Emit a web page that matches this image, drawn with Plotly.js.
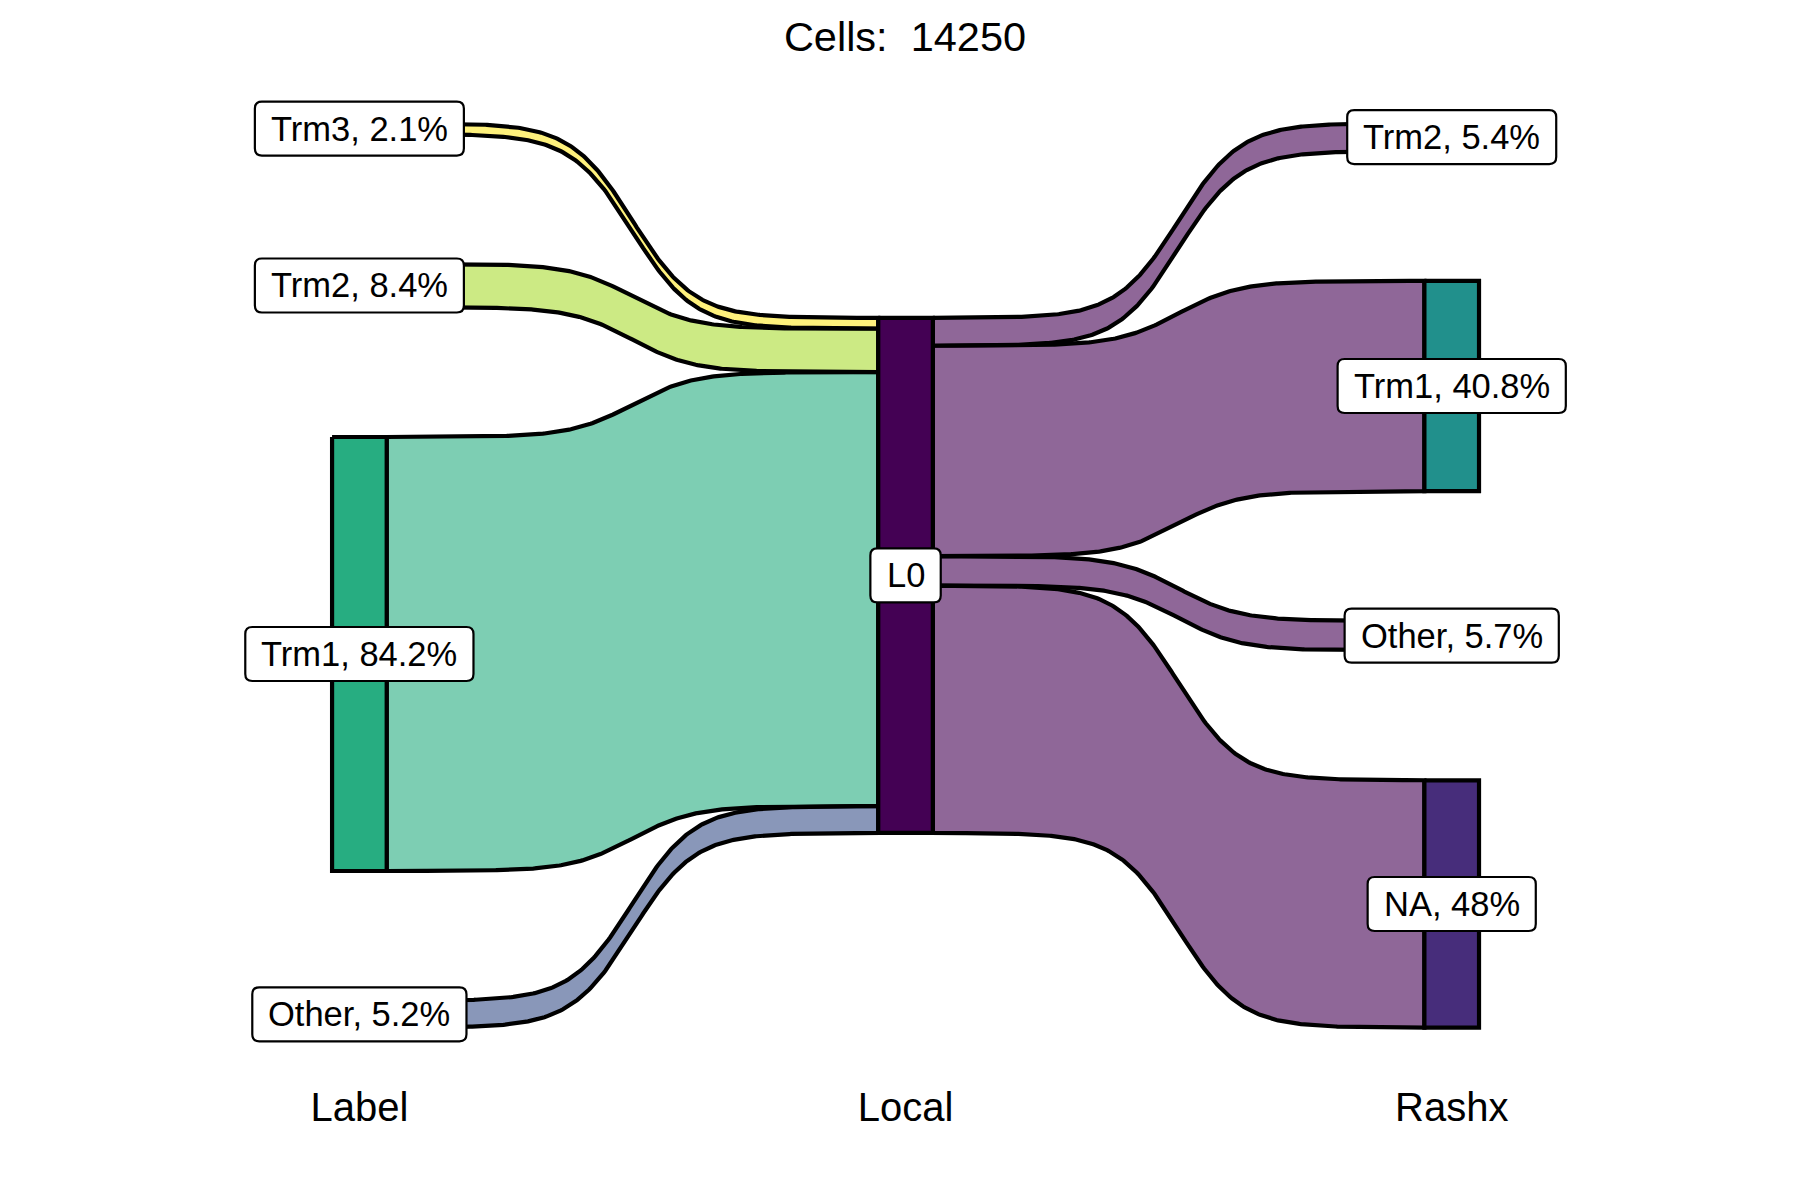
<!DOCTYPE html>
<html><head><meta charset="utf-8">
<script src="https://cdn.plot.ly/plotly-3.0.1.min.js"></script>
<style>html,body{margin:0;padding:0;background:#fff}</style>
</head><body><div id="chart" style="width:1800px;height:1200px"></div>
<script>
// ---- data ----
const totalCells = 14250;
const stageNames = ['Label', 'Local', 'Rashx'];
const labelNodes = ['Trm3', 'Trm2', 'Trm1', 'Other'];
const labelPct = [2.1, 8.4, 84.2, 5.2];
const labelColors = ['#FDE725', '#AADC32', '#27AD81', '#3B528B'];
const localNodes = ['L0'];
const localColors = ['#440154'];
const rashxNodes = ['Trm2', 'Trm1', 'Other', 'NA'];
const rashxPct = [5.4, 40.8, 5.7, 48];
const rashxColors = ['#5DC863', '#21908C', '#2C728E', '#472D7B'];

// ---- style ----
const nodeGap = 25.2;        // gap between nodes in a column (percent units)
const nodeWidth = 0.1;       // x units
const smooth = 8;
const lineW = 4.2;
const FONT = '"Liberation Sans", Arial, sans-serif';
const labelFontSize = 34.5;

function stack(values) {
  const sum = values.reduce((a, b) => a + b, 0);
  const total = sum + nodeGap * (values.length - 1);
  let y = total / 2;
  return values.map(v => { const t = y; y -= v; const b = y; y -= nodeGap; return {top: t, bot: b}; });
}
function alpha(hex, a) {
  const r = parseInt(hex.slice(1, 3), 16), g = parseInt(hex.slice(3, 5), 16), b = parseInt(hex.slice(5, 7), 16);
  return `rgba(${r},${g},${b},${a})`;
}
function sigmoidEdge(x0, x1, y0, y1, n) {
  const xs = [], ys = [];
  for (let i = 0; i < n; i++) {
    const s = -smooth + 2 * smooth * i / (n - 1);
    const f = Math.exp(s) / (Math.exp(s) + 1);
    xs.push((s + smooth) / (2 * smooth) * (x1 - x0) + x0);
    ys.push(f * (y1 - y0) + y0);
  }
  return {xs, ys};
}
function flowTrace(x0, x1, a, b, color) {
  const top = sigmoidEdge(x0, x1, a.top, b.top, 300);
  const bot = sigmoidEdge(x0, x1, a.bot, b.bot, 300);
  const xs = top.xs.concat(bot.xs.slice().reverse(), [top.xs[0]]);
  const ys = top.ys.concat(bot.ys.slice().reverse(), [top.ys[0]]);
  return {type: 'scatter', mode: 'lines', x: xs, y: ys, fill: 'toself', fillcolor: color,
          line: {color: 'black', width: lineW}, hoverinfo: 'skip', showlegend: false};
}
function nodeTrace(xc, s, color) {
  const x0 = xc - nodeWidth / 2, x1 = xc + nodeWidth / 2;
  return {type: 'scatter', mode: 'lines', x: [x0, x1, x1, x0, x0], y: [s.top, s.top, s.bot, s.bot, s.top],
          fill: 'toself', fillcolor: color, line: {color: 'black', width: lineW}, hoverinfo: 'skip', showlegend: false};
}

const localPct = [labelPct.reduce((a, b) => a + b, 0)];
const sL = stack(labelPct), sM = stack(localPct), sR = stack(rashxPct);

const traces = [];
// Label -> Local flows
let yIn = sM[0].top;
labelPct.forEach((v, i) => {
  const seg = {top: yIn, bot: yIn - v}; yIn -= v;
  traces.push(flowTrace(1 + nodeWidth / 2, 2 - nodeWidth / 2, sL[i], seg, alpha(labelColors[i], 0.6)));
});
// Local -> Rashx flows
let yOut = sM[0].top;
rashxPct.forEach((v, j) => {
  const seg = {top: yOut, bot: yOut - v}; yOut -= v;
  traces.push(flowTrace(2 + nodeWidth / 2, 3 - nodeWidth / 2, seg, sR[j], alpha(localColors[0], 0.6)));
});
// nodes
sL.forEach((s, i) => traces.push(nodeTrace(1, s, labelColors[i])));
sM.forEach((s, i) => traces.push(nodeTrace(2, s, localColors[i])));
sR.forEach((s, i) => traces.push(nodeTrace(3, s, rashxColors[i])));

// labels
const ctx = document.createElement('canvas').getContext('2d');
ctx.font = labelFontSize + 'px ' + FONT;
const shapes = [], annotations = [];
function addLabel(xc, s, text) {
  const yc = (s.top + s.bot) / 2;
  const w = ctx.measureText(text).width + 32, h = 54, r = 7;
  const hw = w / 2, hh = h / 2;
  const path = `M ${-hw + r},${-hh} L ${hw - r},${-hh} Q ${hw},${-hh} ${hw},${-hh + r} L ${hw},${hh - r} Q ${hw},${hh} ${hw - r},${hh} ` +
               `L ${-hw + r},${hh} Q ${-hw},${hh} ${-hw},${hh - r} L ${-hw},${-hh + r} Q ${-hw},${-hh} ${-hw + r},${-hh} Z`;
  shapes.push({type: 'path', xref: 'x', yref: 'y', xsizemode: 'pixel', ysizemode: 'pixel', xanchor: xc, yanchor: yc,
               path: path, fillcolor: 'white', line: {color: 'black', width: 2.2}, layer: 'above'});
  annotations.push({x: xc, y: yc, xref: 'x', yref: 'y', text: text, showarrow: false,
                    font: {family: FONT, size: labelFontSize, color: 'black'}, xanchor: 'center', yanchor: 'middle'});
}
labelNodes.forEach((n, i) => addLabel(1, sL[i], `${n}, ${labelPct[i]}%`));
localNodes.forEach((n, i) => addLabel(2, sM[i], n));
rashxNodes.forEach((n, i) => addLabel(3, sR[i], `${n}, ${rashxPct[i]}%`));

const layout = {
  width: 1800, height: 1200,
  paper_bgcolor: 'white', plot_bgcolor: 'white',
  margin: {l: 65, r: 55, t: 70, b: 120},
  title: {text: 'Cells: \u00a0' + totalCells, x: 0.5, xref: 'paper', y: 0.97, yref: 'container', yanchor: 'middle',
          font: {family: FONT, size: 41.5, color: 'black'}},
  xaxis: {range: [0.461, 3.537], tickvals: [1, 2, 3], ticktext: stageNames, ticks: '', showgrid: false,
          zeroline: false, showline: false, tickfont: {family: FONT, size: 40, color: 'black'}, fixedrange: true},
  yaxis: {range: [-97.9, 98.06], visible: false, showgrid: false, zeroline: false, fixedrange: true},
  shapes: shapes, annotations: annotations, hovermode: false, showlegend: false
};
Plotly.newPlot('chart', traces, layout, {staticPlot: true, displayModeBar: false});
</script></body></html>
